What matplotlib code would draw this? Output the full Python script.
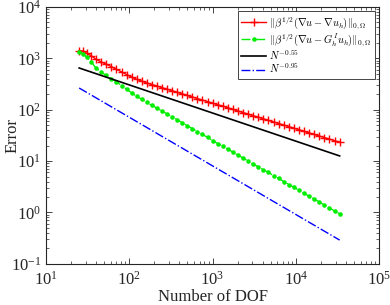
import matplotlib
matplotlib.use("Agg")
import matplotlib.pyplot as plt

plt.rcParams['font.family'] = ['Liberation Serif', 'DejaVu Serif']
plt.rcParams['mathtext.fontset'] = 'cm'

# degrees of freedom on each adaptive level
dof = [25, 28, 31, 35, 40, 46, 53, 61, 70, 81, 93, 107, 123, 141, 162, 186,
       214, 246, 283, 326, 375, 432, 497, 572, 658, 757, 871, 1002, 1153,
       1327, 1527, 1757, 2022, 2327, 2678, 3082, 3547, 4082, 4698, 5407,
       6223, 7162, 8243, 9487, 10918, 12565, 14461, 16643, 19154, 22044,
       25370, 29197, 33600]

err_grad = [1420, 1380, 1250, 1120, 960, 850, 770, 690, 610, 545, 485, 430,
            390, 360, 333, 310, 290, 270, 252, 235, 219, 204, 190, 177, 165,
            154, 144, 134, 125, 117, 109, 101.5, 94.5, 88, 82, 76.5, 71.5,
            66.5, 62, 57.8, 53.9, 50.3, 46.9, 43.7, 40.8, 38, 35.4, 33, 30.8,
            28.7, 26.8, 25, 23.3]

err_rec = [1350, 1200, 1050, 850, 640, 540, 465, 405, 350, 295, 250, 212,
           182, 160, 139, 122, 108, 95, 83, 73, 64, 56, 49, 43, 37.5, 33, 29,
           25, 22, 19.5, 17, 15, 13, 11.5, 10, 8.8, 7.7, 6.8, 6.0, 5.2, 4.6,
           4.0, 3.5, 3.1, 2.7, 2.35, 2.07, 1.82, 1.6, 1.4, 1.22, 1.07, 0.94]

# reference slopes (end points only, straight in log-log)
ref_dof = [25, 33600]
ref_055 = [650, 12.6]
ref_095 = [265, 0.29]

labels = [r'$\|\beta^{1/2}(\nabla u-\nabla u_h)\|_{0,\Omega}$',
          r'$\|\beta^{1/2}(\nabla u-G_h^I u_h)\|_{0,\Omega}$',
          r'$N^{-0.55}$',
          r'$N^{-0.95}$']

fig = plt.figure(figsize=(3.9, 3.05), dpi=100)
ax = fig.add_axes([0.118, 0.135, 0.854, 0.842])

ax.loglog(dof, err_grad, '-', color='red', marker='+', ms=5.5, mew=1.0, lw=1.0, label=labels[0])
ax.loglog(dof, err_rec, '-.', color='#00ee00', marker='.', ms=4.5, lw=1.0, label=labels[1])
ax.loglog(ref_dof, ref_055, '-', color='black', lw=1.2, label=labels[2])
ax.loglog(ref_dof, ref_095, '-.', color='blue', lw=1.0, label=labels[3])

ax.set_xlim(10, 1e5)
ax.set_ylim(1e-1, 1e4)
ax.set_xlabel('Number of DOF', fontsize=12, color='#262626', labelpad=0)
ax.set_ylabel('Error', fontsize=12, color='#262626')
ax.yaxis.set_label_coords(-0.078, 0.5)

ax.tick_params(which='both', direction='in', top=True, right=True,
               colors='#262626', labelsize=12)
ax.tick_params(which='major', length=4, width=0.6)
ax.tick_params(which='minor', length=2, width=0.5)
ax.tick_params(axis='x', which='major', pad=5)
for s in ax.spines.values():
    s.set_color('#262626')
    s.set_linewidth(0.8)

leg = ax.legend(loc='upper right', fontsize=7.5, fancybox=False, edgecolor='#262626',
                framealpha=1, handlelength=2.4, borderaxespad=0.4,
                labelspacing=0.02, borderpad=0.3, handletextpad=0.3)
leg.get_frame().set_linewidth(0.6)

plt.savefig('out.png', dpi=100)
